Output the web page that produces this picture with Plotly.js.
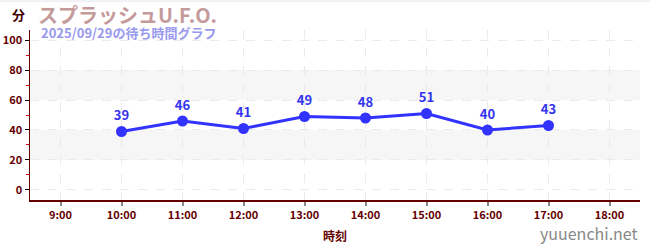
<!DOCTYPE html>
<html><head><meta charset="utf-8">
<script src="https://cdn.plot.ly/plotly-3.0.1.min.js"></script>
<style>html,body{margin:0;padding:0;background:#fff}#chart{width:650px;height:250px}</style>
</head><body><div id="chart"></div>
<script>
const hours = [10, 11, 12, 13, 14, 15, 16, 17];
const waitMinutes = [39, 46, 41, 49, 48, 51, 40, 43];
const tickHours = [9, 10, 11, 12, 13, 14, 15, 16, 17, 18];
const tickLabels = ["9:00","10:00","11:00","12:00","13:00","14:00","15:00","16:00","17:00","18:00"];
const yTicks = [0, 20, 40, 60, 80, 100];
const bands = [[20, 40], [60, 80]];
const titleText = "スプラッシュU.F.O.";
const subtitleText = "2025/09/29の待ち時間グラフ";
const font = "'Noto Sans CJK JP', 'Noto Sans', sans-serif";

const shapes = bands.map(b => ({type:'rect', xref:'paper', yref:'y', x0:0, x1:1, y0:b[0], y1:b[1], fillcolor:'#f6f6f6', line:{width:0}, layer:'below'}));
shapes.push({type:'line', xref:'paper', yref:'paper', x0:-0.05, x1:1.02, y0:1.17, y1:1.17, line:{color:'#e4e4ee', width:1}});

const trace = {
  x: hours, y: waitMinutes, type:'scatter', mode:'lines+markers+text',
  text: waitMinutes.map(String), textposition:'top center',
  textfont:{family:font, size:13, color:'#3333ee', weight:'bold'},
  line:{color:'#3333ff', width:3}, marker:{color:'#3333ff', size:11},
  hoverinfo:'none', cliponaxis:false
};

const layout = {
  width:650, height:250,
  margin:{l:30, r:10, t:30, b:50},
  paper_bgcolor:'#fff', plot_bgcolor:'#fff',
  showlegend:false,
  font:{family:font},
  xaxis:{
    range:[8.5, 18.5], tickvals:tickHours, ticktext:tickLabels,
    tickfont:{family:font, size:11, color:'#660000', weight:'bold'},
    ticks:'outside', ticklen:4, tickcolor:'#888', tickwidth:2,
    showgrid:true, gridcolor:'#eaeaea', griddash:'dash', gridwidth:1,
    showline:true, linecolor:'#660000', linewidth:1.5, zeroline:false,
    title:{text:'時刻', font:{family:font, size:12, color:'#660000', weight:'bold'}, standoff:12}
  },
  yaxis:{
    range:[-6.7, 106.7], tickvals:yTicks,
    tickfont:{family:font, size:11, color:'#660000', weight:'bold'},
    ticks:'outside', ticklen:4, tickcolor:'#000', tickwidth:1,
    showgrid:true, gridcolor:'#eaeaea', griddash:'dash', gridwidth:1,
    showline:true, linecolor:'#660000', linewidth:1.5, zeroline:false,
    minor:{tickvals:[10,30,50,70,90], ticks:'outside', ticklen:3, tickcolor:'#dd0000', showgrid:false}
  },
  shapes: shapes,
  annotations:[
    {text:'分', xref:'paper', yref:'paper', x:-0.005, y:1.0, yshift:16, xanchor:'right', yanchor:'middle', showarrow:false, font:{family:font, size:13, color:'#440000', weight:'bold'}},
    {text:titleText, xref:'paper', yref:'paper', x:0.01, y:1.0, yshift:16, xanchor:'left', yanchor:'middle', showarrow:false, font:{family:font, size:20, color:'#c49a9a', weight:'bold'}},
    {text:subtitleText, xref:'paper', yref:'paper', x:0.015, y:1.0, yshift:-2, xanchor:'left', yanchor:'middle', showarrow:false, font:{family:font, size:13, color:'#9999ee', weight:'bold'}},
    {text:'yuuenchi.net', xref:'paper', yref:'paper', x:1.0, y:0, yshift:-33, xanchor:'right', yanchor:'middle', showarrow:false, font:{family:font, size:16, color:'#888888'}}
  ]
};
Plotly.newPlot('chart', [trace], layout, {displayModeBar:false, staticPlot:true});
</script></body></html>
